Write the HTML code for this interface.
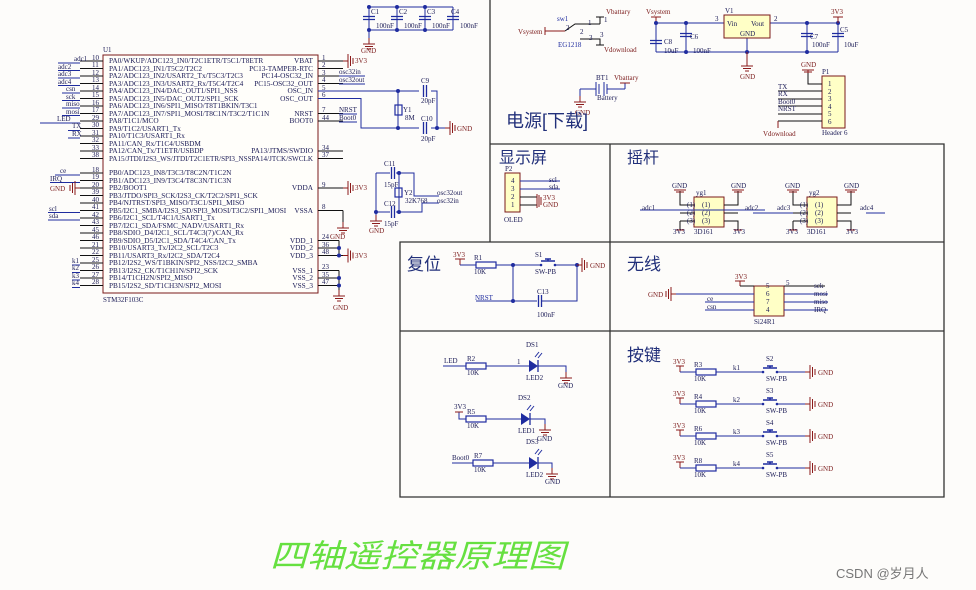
<!DOCTYPE html>
<html><head><meta charset="utf-8"><style>
html,body{margin:0;padding:0;background:#fdfcfa;}
svg{display:block}
text{font-family:"Liberation Serif","Noto Serif CJK SC",serif;font-size:7px;fill:#1a1a55}
.r{fill:#7a1a1a}
.b{fill:#1f2c9f}
.cn{font-family:"Liberation Sans","Noto Sans CJK SC",sans-serif;fill:#22307a}
.w{stroke:#1f2c9f;stroke-width:1;fill:none}
.k{stroke:#111;stroke-width:1;fill:none}
.p{stroke:#8b1a1a;stroke-width:1;fill:none}
.f{stroke:#333;stroke-width:1.3;fill:none}
.chip text{font-size:7.3px}
</style></head><body>
<svg width="976" height="590" viewBox="0 0 976 590" xmlns="http://www.w3.org/2000/svg">
<defs>
<g id="gd" class="p"><path d="M0 0V6M-6 6H6M-4 8.5H4M-2 11H2"/></g>
<g id="gr" class="p"><path d="M0 0H5M5 -7V7M7.5 -5V5M10 -3V3"/></g>
<g id="gl" class="p"><path d="M0 0H-5M-5 -7V7M-7.5 -5V5M-10 -3V3"/></g>
<g id="pu" class="p"><path d="M0 0V-6M-5 -6H5"/></g>
<g id="res"><rect x="0" y="-3" width="20" height="6" fill="none" stroke="#1f2c9f" stroke-width="1.2"/></g>
<g id="capv" stroke="#1f2c9f" stroke-width="1.3"><path d="M-6 -1.5H6M-6 1.5H6"/></g>
<g id="caph" stroke="#1f2c9f" stroke-width="1.3"><path d="M-1.5 -6V6M1.5 -6V6"/></g>
<g id="dot"><circle r="2" fill="#1f2c9f"/></g>
<g id="sw"><path d="M0 0H4M20 0H24" stroke="#1f2c9f"/><circle cx="5" cy="0" r="1.3" fill="#1f2c9f"/><circle cx="19" cy="0" r="1.3" fill="#1f2c9f"/><path d="M5 -4H19M12 -4V-6M9 -6H15" stroke="#1f2c9f" stroke-width="1.5" fill="none"/></g>
<g id="led"><path d="M0 -6L9 0L0 6Z" fill="#1f2c9f"/><path d="M9 -6V6" stroke="#1f2c9f" stroke-width="1.3"/><path d="M6 -9L10 -14M9 -8L13 -13" stroke="#1f2c9f"/></g>
</defs>

<!-- frames -->
<g class="f">
<path d="M490 0V242"/>
<path d="M490 144H944V497H400V242H944"/>
<path d="M610 144V497"/>
<path d="M400 331H944"/>
</g>

<!-- U1 chip -->
<text x="103" y="52">U1</text>
<rect x="103" y="55" width="215" height="238" fill="#fffefa" stroke="#7a1a1a" stroke-width="1"/>
<text x="103" y="302">STM32F103C</text>
<g class="k">
<path d="M80 61H103M80 68.5H103M80 76H103M80 83.5H103M80 91H103M80 98.5H103M80 106H103M80 113.5H103M80 121H103M80 128.5H103M80 136H103M80 143.5H103M80 151H103M80 158.5H103"/>
<path d="M80 173H103M80 180.5H103M80 188H103M80 195.5H103M80 203H103M80 210.5H103M80 218H103M80 225.5H103M80 233H103M80 240.5H103M80 248H103M80 255.5H103M80 263H103M80 270.5H103M80 278H103M80 285.5H103"/>
<path d="M318 61H343M318 68.5H343M318 76H343M318 83.5H343M318 91H343M318 98.5H343M318 113.5H343M318 121H343M318 151H343M318 158.5H343M318 188H343M318 210.5H343M318 240.5H339M318 248H339M318 255.5H343M318 270.5H339M318 278H339M318 285.5H339"/>
</g>
<g class="w"><path d="M58 63H80M58 70.5H80M58 78H80M58 85.5H80M62 93H80M62 100.5H80M62 108H80M62 115.5H80M40 123H80M68 130.5H80M68 138H80"/>
<path d="M55 175H80M50 182.5H80M48 212.5H80M48 220H80M72 265H80M72 272.5H80M72 280H80M72 287.5H80"/></g>
<g class="b">
<text x="74" y="61">adc1</text><text x="58" y="69">adc2</text><text x="58" y="76">adc3</text><text x="58" y="84">adc4</text>
<text x="66" y="91">csn</text><text x="66" y="99">sck</text><text x="66" y="106">miso</text><text x="66" y="114">mosi</text>
<text x="57" y="121">LED</text><text x="72" y="128">TX</text><text x="72" y="136">RX</text>
<text x="60" y="173">ce</text><text x="50" y="181">IRQ</text><text x="49" y="211">scl</text><text x="49" y="218">sda</text>
<text x="72" y="263">k1</text><text x="72" y="270">k2</text><text x="72" y="278">k3</text><text x="72" y="285">k4</text>
</g>
<text x="50" y="191" class="r">GND</text><use href="#gl" x="80" y="188"/>
<g>
<text x="92" y="60">10</text><text x="92" y="67">11</text><text x="92" y="75">12</text><text x="92" y="82">13</text><text x="92" y="90">14</text><text x="92" y="97">15</text><text x="92" y="105">16</text><text x="92" y="112">17</text><text x="92" y="120">29</text><text x="92" y="127">30</text><text x="92" y="135">31</text><text x="92" y="142">32</text><text x="92" y="150">33</text><text x="92" y="157">38</text>
<text x="92" y="172">18</text><text x="92" y="179">19</text><text x="92" y="187">20</text><text x="92" y="194">39</text><text x="92" y="202">40</text><text x="92" y="209">41</text><text x="92" y="217">42</text><text x="92" y="224">43</text><text x="92" y="232">45</text><text x="92" y="239">46</text><text x="92" y="247">21</text><text x="92" y="254">22</text><text x="92" y="262">25</text><text x="92" y="269">26</text><text x="92" y="277">27</text><text x="92" y="284">28</text>
</g>
<g class="chip">
<text x="109" y="63">PA0/WKUP/ADC123_IN0/T2C1ETR/T5C1/T8ETR</text>
<text x="109" y="71">PA1/ADC123_IN1/T5C2/T2C2</text>
<text x="109" y="78">PA2/ADC123_IN2/USART2_Tx/T5C3/T2C3</text>
<text x="109" y="86">PA3/ADC123_IN3/USART2_Rx/T5C4/T2C4</text>
<text x="109" y="93">PA4/ADC123_IN4/DAC_OUT1/SPI1_NSS</text>
<text x="109" y="101">PA5/ADC123_IN5/DAC_OUT2/SPI1_SCK</text>
<text x="109" y="108">PA6/ADC123_IN6/SPI1_MISO/T8T1BKIN/T3C1</text>
<text x="109" y="116">PA7/ADC123_IN7/SPI1_MOSI/T8C1N/T3C2/T1C1N</text>
<text x="109" y="123">PA8/T1C1/MCO</text>
<text x="109" y="131">PA9/T1C2/USART1_Tx</text>
<text x="109" y="138">PA10/T1C3/USART1_Rx</text>
<text x="109" y="146">PA11/CAN_Rx/T1C4/USBDM</text>
<text x="109" y="153">PA12/CAN_Tx/T1ETR/USBDP</text>
<text x="109" y="161" textLength="204" lengthAdjust="spacingAndGlyphs">PA15/JTDI/I2S3_WS/JTDI/T2C1ETR/SPI3_NSSPA14/JTCK/SWCLK</text>
<text x="109" y="175">PB0/ADC123_IN8/T3C3/T8C2N/T1C2N</text>
<text x="109" y="183">PB1/ADC123_IN9/T3C4/T8C3N/T1C3N</text>
<text x="109" y="190">PB2/BOOT1</text>
<text x="109" y="198">PB3/JTDO/SPI3_SCK/I2S3_CK/T2C2/SPI1_SCK</text>
<text x="109" y="205">PB4/NJTRST/SPI3_MISO/T3C1/SPI1_MISO</text>
<text x="109" y="213">PB5/I2C1_SMBA/I2S3_SD/SPI3_MOSI/T3C2/SPI1_MOSI</text>
<text x="109" y="220">PB6/I2C1_SCL/T4C1/USART1_Tx</text>
<text x="109" y="228">PB7/I2C1_SDA/FSMC_NADV/USART1_Rx</text>
<text x="109" y="235">PB8/SDIO_D4/I2C1_SCL/T4C3(7)/CAN_Rx</text>
<text x="109" y="243">PB9/SDIO_D5/I2C1_SDA/T4C4/CAN_Tx</text>
<text x="109" y="250">PB10/USART3_Tx/I2C2_SCL/T2C3</text>
<text x="109" y="258">PB11/USART3_Rx/I2C2_SDA/T2C4</text>
<text x="109" y="265">PB12/I2S2_WS/T1BKIN/SPI2_NSS/I2C2_SMBA</text>
<text x="109" y="273">PB13/I2S2_CK/T1CH1N/SPI2_SCK</text>
<text x="109" y="280">PB14/T1CH2N/SPI2_MISO</text>
<text x="109" y="288">PB15/I2S2_SD/T1CH3N/SPI2_MOSI</text>
</g>
<g text-anchor="end" class="chip">
<text x="313" y="63">VBAT</text><text x="313" y="71">PC13-TAMPER-RTC</text><text x="313" y="78">PC14-OSC32_IN</text><text x="313" y="86">PC15-OSC32_OUT</text><text x="313" y="93">OSC_IN</text><text x="313" y="101">OSC_OUT</text><text x="313" y="116">NRST</text><text x="313" y="123">BOOT0</text><text x="313" y="153">PA13/JTMS/SWDIO</text>
<text x="313" y="190">VDDA</text><text x="313" y="213">VSSA</text><text x="313" y="243">VDD_1</text><text x="313" y="250">VDD_2</text><text x="313" y="258">VDD_3</text><text x="313" y="273">VSS_1</text><text x="313" y="280">VSS_2</text><text x="313" y="288">VSS_3</text>
</g>
<g>
<text x="322" y="60">1</text><text x="322" y="67">2</text><text x="322" y="75">3</text><text x="322" y="82">4</text><text x="322" y="90">5</text><text x="322" y="97">6</text><text x="322" y="112">7</text><text x="322" y="120">44</text><text x="322" y="150">34</text><text x="322" y="157">37</text><text x="322" y="187">9</text><text x="322" y="209">8</text><text x="322" y="239">24</text><text x="322" y="247">36</text><text x="322" y="254">48</text><text x="322" y="269">23</text><text x="322" y="277">35</text><text x="322" y="284">47</text>
</g>
<text x="330" y="239" class="r">GND</text>
<use href="#gr" x="343" y="61"/><text x="355" y="63" class="r">3V3</text>
<use href="#gr" x="343" y="188"/><text x="355" y="190" class="r">3V3</text>
<use href="#gr" x="343" y="255.5"/><text x="355" y="258" class="r">3V3</text>
<path class="k" d="M343 210.5V222M339 240.5V255.5M339 270.5V290"/>
<use href="#gd" x="343" y="222"/>
<use href="#gd" x="339" y="290"/><text x="333" y="310" class="r">GND</text>
<use href="#dot" x="339" y="248"/><use href="#dot" x="339" y="255.5"/><use href="#dot" x="339" y="278"/><use href="#dot" x="339" y="285.5"/>
<g class="b"><text x="339" y="74">osc32in</text><text x="339" y="82">osc32out</text><text x="339" y="112">NRST</text><text x="339" y="120">Boot0</text></g>
<path class="w" d="M339 76H365M339 84H365M339 114H357M339 122H357"/>

<!-- C1-C4 -->
<path class="w" d="M369 7H453M369 30H453M369 7V30M397 7V30M425 7V30M453 7V30M369 30V38"/>
<use href="#capv" x="369" y="18"/><use href="#capv" x="397" y="18"/><use href="#capv" x="425" y="18"/><use href="#capv" x="453" y="18"/>
<use href="#dot" x="369" y="7"/><use href="#dot" x="397" y="7"/><use href="#dot" x="425" y="7"/><use href="#dot" x="369" y="30"/><use href="#dot" x="397" y="30"/><use href="#dot" x="425" y="30"/>
<text x="371" y="14">C1</text><text x="399" y="14">C2</text><text x="427" y="14">C3</text><text x="451" y="14">C4</text>
<text x="376" y="28">100nF</text><text x="404" y="28">100nF</text><text x="432" y="28">100nF</text><text x="460" y="28">100nF</text>
<use href="#gd" x="369" y="38"/><text x="361" y="53" class="r">GND</text>

<!-- Y1 -->
<path class="w" d="M318 91H419M431 91H437V128M318 98.5H361V128H419M431 128H445M398 91V128"/>
<use href="#caph" x="425" y="91"/><use href="#caph" x="425" y="128"/>
<rect x="395" y="105" width="7" height="10" fill="none" stroke="#1f2c9f" stroke-width="1.2"/>
<use href="#dot" x="398" y="91"/><use href="#dot" x="398" y="128"/><use href="#dot" x="437" y="128"/>
<text x="421" y="83">C9</text><text x="421" y="103">20pF</text><text x="403" y="112">Y1</text><text x="405" y="120">8M</text><text x="421" y="121">C10</text><text x="421" y="141">20pF</text>
<use href="#gr" x="445" y="128"/><text x="457" y="131" class="r">GND</text>

<!-- Y2 -->
<path class="w" d="M376 173H390M396 173H414V196H439M376 212H390M396 212H422V203H439M376 173V215M399 173V212"/>
<use href="#caph" x="393" y="173"/><use href="#caph" x="393" y="212"/>
<rect x="395" y="188" width="7" height="9" fill="none" stroke="#1f2c9f" stroke-width="1.2"/>
<use href="#dot" x="399" y="173"/><use href="#dot" x="399" y="212"/><use href="#dot" x="376" y="212"/>
<text x="384" y="166">C11</text><text x="384" y="187">15pF</text><text x="404" y="195">Y2</text><text x="405" y="203">32K768</text><text x="384" y="206">C12</text><text x="384" y="226">15pF</text>
<g class="r"><text x="437" y="195">osc32out</text><text x="437" y="203">osc32in</text></g>
<use href="#gd" x="376" y="215"/><text x="369" y="233" class="r">GND</text>

<!-- power section -->
<text x="518" y="34" class="r">Vsystem</text>
<path class="p" d="M545 27V35M545 31H565"/>
<path class="k" d="M565 31L575 24H600M600 24V17M596 17H604M580 39H600V45M596 45H604"/>
<text x="557" y="21" class="b">sw1</text><text x="566" y="30">2</text><text x="580" y="34">2</text><text x="588" y="25">1</text><text x="604" y="22">1</text><text x="589" y="40">3</text><text x="600" y="37">3</text>
<text x="558" y="47" class="b">EG1218</text>
<text x="606" y="14" class="r">Vbattary</text><text x="604" y="52" class="r">Vdownload</text>
<!-- battery -->
<path class="w" d="M580 89H596M596 82V96M599 84V94M604 82V96M607 84V94M607 89H625M625 89V83M580 89V96"/>
<use href="#gd" x="580" y="96"/><text x="575" y="115" class="r">GND</text>
<text x="596" y="80">BT1</text><text x="614" y="80" class="r">Vbattary</text><text x="597" y="100">Battery</text>
<path class="p" d="M620 83H630"/>
<!-- regulator -->
<text x="646" y="14" class="r">Vsystem</text><use href="#pu" x="656" y="23"/>
<path class="w" d="M656 23H724M770 23H838M656 52H838M656 23V52M686 23V52M807 23V52M838 23V52M747 38V52"/>
<use href="#capv" x="656" y="42"/><use href="#capv" x="686" y="35"/><use href="#capv" x="807" y="35"/><use href="#capv" x="838" y="35"/>
<use href="#dot" x="656" y="23"/><use href="#dot" x="686" y="23"/><use href="#dot" x="807" y="23"/><use href="#dot" x="838" y="23"/><use href="#dot" x="686" y="52"/><use href="#dot" x="747" y="52"/><use href="#dot" x="807" y="52"/>
<rect x="724" y="15" width="46" height="23" fill="#ffffc6" stroke="#7a1a1a"/>
<text x="727" y="26">Vin</text><text x="751" y="26">Vout</text><text x="740" y="36">GND</text><text x="725" y="13">V1</text>
<text x="715" y="21">3</text><text x="774" y="21">2</text>
<text x="664" y="44">C8</text><text x="664" y="53">10uF</text><text x="690" y="39">C6</text><text x="693" y="53">100nF</text>
<text x="810" y="39">C7</text><text x="812" y="47">100nF</text><text x="840" y="32">C5</text><text x="844" y="47">10uF</text>
<text x="831" y="14" class="r">3V3</text><use href="#pu" x="838" y="23"/>
<path class="p" d="M747 52V60"/><use href="#gd" x="747" y="60"/><text x="740" y="79" class="r">GND</text>
<!-- P1 -->
<rect x="822" y="76" width="23" height="52" fill="#ffffc6" stroke="#7a1a1a"/>
<text x="822" y="74">P1</text><text x="822" y="135">Header 6</text>
<g><text x="828" y="86">1</text><text x="828" y="94">2</text><text x="828" y="101">3</text><text x="828" y="109">4</text><text x="828" y="116">5</text><text x="828" y="124">6</text></g>
<path class="k" d="M808 73V84H822M778 91H822M778 99H822M778 106H822M778 114H822M778 121H822"/>
<path class="p" d="M808 73V70M802 70H814M804 72H812M778 121V128"/>
<text x="801" y="67" class="r">GND</text>
<g class="b"><text x="778" y="89">TX</text><text x="778" y="96">RX</text><text x="778" y="104">Boot0</text><text x="778" y="111">NRST</text></g>
<text x="763" y="136" class="r">Vdownload</text>

<text x="506" y="127" class="cn" style="font-size:18px">电源[下载]</text>
<text x="499" y="163" class="cn" style="font-size:16px">显示屏</text>
<text x="627" y="163" class="cn" style="font-size:16px">摇杆</text>
<text x="407" y="270" class="cn" style="font-size:17px">复位</text>
<text x="627" y="270" class="cn" style="font-size:17px">无线</text>
<text x="627" y="361" class="cn" style="font-size:17px">按键</text>

<!-- OLED -->
<rect x="505" y="173" width="15" height="39" fill="#ffffc6" stroke="#7a1a1a"/>
<text x="505" y="171">P2</text><text x="504" y="222">OLED</text>
<text x="511" y="183">4</text><text x="511" y="191">3</text><text x="511" y="199">2</text><text x="511" y="207">1</text>
<path class="w" d="M520 181H560M520 189H560"/>
<path class="k" d="M520 197H537M520 205H537"/>
<path class="p" d="M537 194V208M539 195V207M541 197V205"/>
<g class="b"><text x="549" y="182">scl</text><text x="549" y="189">sda</text></g>
<text x="543" y="200" class="r">3V3</text><text x="543" y="207" class="r">GND</text>

<!-- joysticks -->
<g id="js1">
<rect x="694" y="197" width="30" height="30" fill="#ffffc6" stroke="#7a1a1a"/>
<path class="k" d="M680 191V205H694M680 213H694M680 221H694M680 221V230M738 191V205H724M724 213H738M724 221H738V230"/>
<path class="p" d="M674 190H686M676 192H684"/>
<path class="p" d="M732 190H744M734 192H742M676 230H684M734 230H742"/>
<text x="687" y="207">(1)</text><text x="687" y="215">(2)</text><text x="687" y="223">(3)</text>
<text x="702" y="207">(1)</text><text x="702" y="215">(2)</text><text x="702" y="223">(3)</text>
</g>
<use href="#js1" x="113" y="0"/>
<path class="w" d="M640 210H680M738 210H765M753 210H680"/>
<path class="w" d="M753 213H771M866 213H885M771 213H793"/>
<g class="r">
<text x="672" y="188">GND</text><text x="731" y="188">GND</text><text x="785" y="188">GND</text><text x="844" y="188">GND</text>
<text x="673" y="234">3V3</text><text x="733" y="234">3V3</text><text x="786" y="234">3V3</text><text x="846" y="234">3V3</text>
</g>
<text x="696" y="195">yg1</text><text x="809" y="195">yg2</text>
<text x="694" y="234">3D161</text><text x="807" y="234">3D161</text>
<g class="b"><text x="642" y="210">adc1</text><text x="745" y="210">adc2</text><text x="777" y="210">adc3</text><text x="860" y="210">adc4</text></g>

<!-- reset -->
<text x="453" y="257" class="r">3V3</text>
<path class="p" d="M455 259H465M460 259V265"/>
<path class="w" d="M460 265H476M496 265H536M560 265H577M513 265V301H537M542 301H577V265M476 301H513"/>
<use href="#res" x="476" y="265"/>
<use href="#sw" x="536" y="265"/>
<use href="#caph" x="540" y="301"/>
<use href="#dot" x="513" y="265"/><use href="#dot" x="513" y="301"/><use href="#dot" x="577" y="265"/>
<text x="474" y="260">R1</text><text x="474" y="274">10K</text><text x="535" y="257">S1</text><text x="535" y="274">SW-PB</text><text x="537" y="294">C13</text><text x="537" y="317">100nF</text>
<text x="475" y="300" class="b">NRST</text>
<use href="#gr" x="577" y="265"/><text x="590" y="268" class="r">GND</text>

<!-- wireless -->
<text x="735" y="279" class="r">3V3</text>
<path class="p" d="M735 281H745M740 281V286"/>
<rect x="754" y="286" width="30" height="30" fill="#ffffc6" stroke="#7a1a1a"/>
<path class="k" d="M740 286H754M784 286H825"/>
<path class="w" d="M676 294H754M705 302H754M705 310H754M784 294H828M784 302H828M784 310H828"/>
<use href="#gl" x="676" y="294"/><text x="648" y="297" class="r">GND</text>
<g><text x="766" y="288">5</text><text x="766" y="296">6</text><text x="766" y="304">7</text><text x="766" y="312">4</text><text x="786" y="285">5</text></g>
<text x="754" y="324">Si24R1</text>
<g class="b"><text x="707" y="301">ce</text><text x="707" y="309">csn</text></g>
<g class="r"><text x="814" y="288">sck</text><text x="814" y="296">mosi</text><text x="814" y="304">miso</text><text x="814" y="312">IRQ</text></g>

<!-- LEDs -->
<path class="w" d="M443 366H466M486 366H529M538 366H566V372M459 412V419H466M486 419H521M530 419H545V424M452 463H473M493 463H529M538 463H552V468"/>
<path class="p" d="M455 412H463"/>
<use href="#res" x="466" y="366"/><use href="#res" x="466" y="419"/><use href="#res" x="473" y="463"/>
<use href="#led" x="529" y="366"/><use href="#led" x="521" y="419"/><use href="#led" x="529" y="463"/>
<use href="#gd" x="566" y="372"/><use href="#gd" x="545" y="424"/><use href="#gd" x="552" y="468"/>
<g class="r"><text x="558" y="388">GND</text><text x="537" y="441">GND</text><text x="545" y="484">GND</text><text x="454" y="409">3V3</text></g>
<g class="b"><text x="444" y="363">LED</text><text x="452" y="460">Boot0</text></g>
<text x="467" y="361">R2</text><text x="467" y="375">10K</text><text x="467" y="414">R5</text><text x="467" y="428">10K</text><text x="474" y="458">R7</text><text x="474" y="472">10K</text>
<text x="526" y="347">DS1</text><text x="526" y="380">LED2</text><text x="518" y="400">DS2</text><text x="518" y="433">LED1</text><text x="526" y="444">DS3</text><text x="526" y="477">LED2</text>
<text x="517" y="364">1</text>

<!-- keys -->
<g id="key">
<text x="673" y="364" class="r">3V3</text>
<path class="p" d="M676 366H684M680 366V372"/>
<path class="w" d="M680 372H696M716 372H758M782 372H805"/>
<use href="#res" x="696" y="372"/>
<use href="#sw" x="758" y="372"/>
<use href="#gr" x="805" y="372"/>
<text x="818" y="375" class="r">GND</text>
</g>
<use href="#key" y="32"/><use href="#key" y="64"/><use href="#key" y="96"/>
<text x="694" y="367">R3</text><text x="694" y="381">10K</text><text x="733" y="370">k1</text><text x="766" y="361">S2</text><text x="766" y="381">SW-PB</text>
<text x="694" y="399">R4</text><text x="694" y="413">10K</text><text x="733" y="402">k2</text><text x="766" y="393">S3</text><text x="766" y="413">SW-PB</text>
<text x="694" y="431">R6</text><text x="694" y="445">10K</text><text x="733" y="434">k3</text><text x="766" y="425">S4</text><text x="766" y="445">SW-PB</text>
<text x="694" y="463">R8</text><text x="694" y="477">10K</text><text x="733" y="466">k4</text><text x="766" y="457">S5</text><text x="766" y="477">SW-PB</text>

<!-- title -->
<text x="270" y="567" style="font-family:'Noto Sans CJK SC','WenQuanYi Zen Hei',sans-serif;font-size:32px;fill:#66e040;font-style:italic" textLength="295" lengthAdjust="spacingAndGlyphs">四轴遥控器原理图</text>
<text x="836" y="578" style="font-family:'Liberation Sans','Noto Sans CJK SC',sans-serif;font-size:13px;fill:#777">CSDN @岁月人</text>
</svg>
</body></html>
